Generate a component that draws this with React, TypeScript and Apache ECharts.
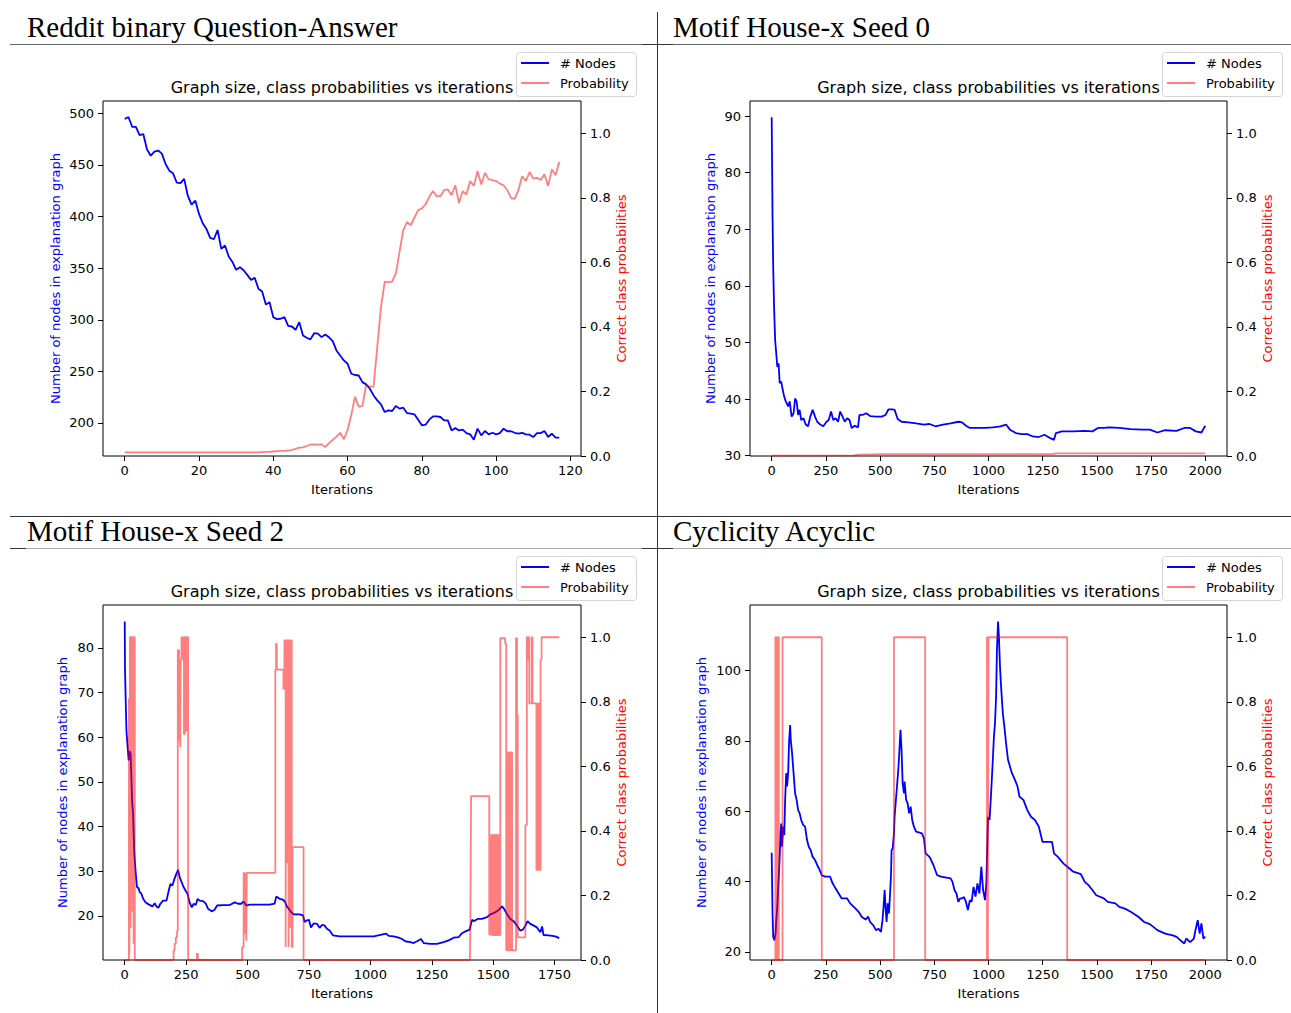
import React, { useEffect, useRef } from "react";
import * as echarts from "echarts";

// ---------- Data ----------
const headings = ["Reddit binary Question-Answer", "Motif House-x Seed 0", "Motif House-x Seed 2", "Cyclicity Acyclic"];
const subtitle = "Graph size, class probabilities vs iterations";
const legendNames = ["# Nodes", "Probability"];
const xName = "Iterations";
const leftName = "Number of nodes in explanation graph";
const rightName = "Correct class probabilities";

// Panel 1 (one value per iteration, 0..117)
const p1Nodes = [494.6, 496.5, 487, 487, 479, 480, 465, 459, 463, 464, 461, 451, 444.5, 442, 433, 432.5, 436.5, 420, 411.6, 415.5,
  402.6, 393.5, 388, 379.4, 378, 387, 368.7, 372, 361.3, 356, 348.4, 351, 348, 343.5, 338.7, 340.6, 330, 327.4, 314.8, 317,
  302.5, 300.6, 301, 302.5, 294, 293.5, 290.3, 297.7, 284.8, 282.6, 281, 287, 286.5, 283.2, 285.8, 283, 279.3, 270.3, 265.4, 260.6,
  257.4, 247.7, 246.5, 246, 239.6, 237.4, 233.2, 226.7, 221.9, 218, 210.6, 212.2, 211.6, 216.4, 213.9, 214.8, 209.6, 209, 208.4, 203.2,
  197.7, 198.3, 203.2, 206.4, 206.4, 205.8, 202.5, 202.5, 192.8, 195, 192.8, 193.5, 190.2, 189, 183.8, 194.5, 188, 192.2, 189, 190.5,
  189, 190.2, 194.5, 192, 192, 190.5, 189.6, 190.5, 189, 188.7, 186.4, 190.2, 190.2, 192.2, 186.4, 189.6, 185.8, 185.8];
const p1Prob = [0.011, 0.011, 0.011, 0.011, 0.011, 0.011, 0.011, 0.011, 0.011, 0.011, 0.011, 0.011, 0.011, 0.011, 0.011, 0.011, 0.011, 0.011, 0.011, 0.011,
  0.011, 0.011, 0.011, 0.011, 0.011, 0.011, 0.011, 0.011, 0.011, 0.011, 0.011, 0.011, 0.011, 0.011, 0.011, 0.011, 0.011, 0.012, 0.013, 0.013,
  0.014, 0.015, 0.016, 0.016, 0.017, 0.019, 0.022, 0.026, 0.027, 0.031, 0.035, 0.036, 0.035, 0.036, 0.028, 0.04, 0.05, 0.06, 0.072, 0.052,
  0.08, 0.127, 0.184, 0.153, 0.155, 0.22, 0.215, 0.215, 0.338, 0.462, 0.54, 0.539, 0.54, 0.566, 0.633, 0.7, 0.725, 0.715, 0.739, 0.762,
  0.767, 0.78, 0.803, 0.821, 0.805, 0.805, 0.824, 0.826, 0.808, 0.839, 0.784, 0.821, 0.81, 0.852, 0.837, 0.883, 0.841, 0.878, 0.857, 0.855,
  0.852, 0.844, 0.839, 0.824, 0.8, 0.797, 0.824, 0.867, 0.852, 0.88, 0.86, 0.862, 0.855, 0.873, 0.837, 0.888, 0.87, 0.911];

// Panel 2 ([iteration, value])
const p2Nodes = [[0, 89.8], [2, 80.9], [4, 72.1], [7, 63.3], [11, 56.3], [16, 50.4], [21, 48.1], [26, 45.7], [32, 46.3], [37, 42.8], [44, 43.1], [51, 41.6],
  [58, 40.4], [65, 39.6], [76, 38.7], [83, 39.6], [92, 36.9], [101, 37.5], [108, 40.1], [115, 39.6], [122, 37.2], [129, 38.1], [136, 36.3], [147, 36.6],
  [157, 35.5], [168, 35.2], [178, 36.9], [189, 38.1], [200, 36.9], [210, 36.0], [224, 35.5], [238, 35.2], [253, 36.0], [263, 36.3], [274, 37.8], [284, 36.3],
  [295, 36.6], [306, 36.0], [316, 37.8], [327, 36.9], [337, 36.0], [348, 36.6], [359, 36.3], [369, 34.9], [383, 35.3], [398, 35.0], [405, 37.2], [419, 37.2],
  [436, 37.5], [454, 37.0], [481, 36.9], [507, 36.9], [525, 37.2], [539, 38.2], [557, 38.2], [567, 38.1], [581, 36.5], [599, 36.0], [631, 35.9], [666, 35.7],
  [702, 35.5], [728, 35.6], [755, 35.2], [790, 35.5], [825, 35.7], [861, 36.0], [878, 35.9], [896, 35.3], [914, 34.9], [949, 34.9], [984, 34.9], [1020, 35.0],
  [1055, 35.2], [1081, 35.5], [1099, 34.6], [1126, 34.0], [1152, 33.8], [1179, 33.8], [1205, 33.4], [1232, 33.3], [1258, 33.7], [1285, 33.1], [1302, 32.8],
  [1311, 34.0], [1338, 34.3], [1391, 34.3], [1444, 34.4], [1479, 34.3], [1505, 34.9], [1532, 34.9], [1558, 35.0], [1603, 34.9], [1656, 34.7], [1709, 34.6],
  [1744, 34.6], [1779, 34.1], [1815, 34.5], [1867, 34.4], [1903, 34.9], [1930, 34.9], [1956, 34.3], [1982, 34.1], [2000, 35.3]];
const p2Prob = [[0, 0.001], [380, 0.002], [400, 0.004], [520, 0.006], [1300, 0.006], [1310, 0.008], [2000, 0.008]];

// Panel 3
const p3Nodes = [[0, 85.9], [1, 75.5], [4, 68], [7, 61.4], [12, 57.7], [16, 54.8], [20, 56.9], [24, 56.2], [30, 45.7], [34, 42.8], [39, 33.8], [45, 29.4],
  [50, 26.4], [56, 26.2], [61, 25.3], [68, 24.9], [75, 23.8], [85, 23.0], [99, 22.5], [113, 22.1], [122, 22.8], [129, 22.1], [137, 21.8], [145, 22.7],
  [156, 23.4], [170, 23.4], [179, 25.6], [186, 27.1], [194, 26.8], [202, 28.2], [210, 29.4], [217, 30.3], [224, 28.6], [232, 27.5], [240, 26.4], [248, 25.6],
  [256, 24.9], [264, 23.0], [273, 21.9], [281, 22.7], [289, 22.4], [297, 23.8], [305, 23.4], [319, 23.3], [330, 22.7], [340, 21.5], [354, 21.0], [365, 21.3],
  [376, 22.3], [400, 22.4], [427, 22.4], [448, 23.0], [461, 22.7], [475, 22.7], [484, 23.2], [495, 22.3], [509, 22.5], [549, 22.5], [590, 22.5], [610, 22.7],
  [617, 24.3], [631, 23.8], [644, 23.6], [652, 23.2], [660, 22.1], [669, 21.5], [678, 20.8], [688, 20.3], [712, 20.3], [726, 20.1], [732, 18.6], [739, 18.9],
  [750, 19.1], [758, 17.4], [769, 18.3], [783, 18.2], [793, 17.3], [804, 18.0], [814, 17.8], [823, 17.1], [834, 16.7], [848, 15.6], [875, 15.4], [946, 15.4],
  [1014, 15.4], [1064, 16.0], [1075, 15.5], [1095, 15.4], [1115, 15.1], [1129, 14.8], [1142, 14.3], [1163, 14.1], [1176, 13.9], [1190, 14.3], [1206, 14.8],
  [1217, 13.9], [1244, 13.7], [1271, 13.7], [1298, 14.1], [1319, 14.5], [1339, 15.1], [1359, 15.2], [1373, 16.1], [1387, 16.5], [1404, 16.9], [1414, 19.1],
  [1421, 18.8], [1437, 19.3], [1454, 19.3], [1475, 19.7], [1488, 20.3], [1502, 20.6], [1515, 21.0], [1526, 21.5], [1536, 22.1], [1545, 21.5], [1556, 20.4],
  [1570, 19.3], [1583, 18.8], [1597, 17.8], [1610, 16.7], [1621, 16.9], [1631, 17.8], [1640, 18.8], [1651, 18.2], [1665, 17.8], [1678, 17.4], [1692, 16.3],
  [1699, 17.6], [1705, 15.7], [1726, 15.6], [1753, 15.4], [1769, 15.0]];
const p3Prob = [[0, 0], [17, 0], [17, 0.81], [19, 0.81], [19, 0.02], [21, 0.02], [21, 1.0], [24, 1.0], [24, 0.1], [25, 0.1], [25, 1.0], [28, 1.0], [28, 0.2],
  [29, 0.2], [29, 1.0], [32, 1.0], [32, 0.15], [33, 0.15], [33, 1.0], [36, 1.0], [36, 0.05], [37, 0.05], [37, 1.0], [41, 1.0], [41, 0],
  [199, 0], [199, 0.03], [203, 0.03], [203, 0.05], [208, 0.05], [208, 0.07], [213, 0.07], [213, 0.09], [216, 0.09], [216, 0.96], [221, 0.96], [221, 0.68],
  [224, 0.68], [224, 0.87], [226, 0.87], [226, 0.66], [228, 0.66], [228, 0.93], [231, 0.93], [231, 1.0], [238, 1.0], [238, 0.93], [241, 0.93], [241, 0.7],
  [244, 0.7], [244, 1.0], [249, 1.0], [249, 0.71], [252, 0.71], [252, 1.0], [258, 1.0], [258, 0],
  [294, 0], [294, 0.02], [298, 0.02], [298, 0],
  [478, 0], [478, 0.04], [484, 0.04], [484, 0.27], [487, 0.27], [487, 0.08], [489, 0.08], [489, 0.27], [491, 0.27], [491, 0.1], [493, 0.1], [493, 0.27],
  [495, 0.27], [495, 0.06], [497, 0.06], [497, 0.27], [613, 0.27], [613, 0.9], [616, 0.9], [616, 0.98], [619, 0.98], [619, 0.9], [646, 0.9], [646, 0.84],
  [650, 0.84], [650, 0.99], [655, 0.99], [655, 0.04], [657, 0.04], [657, 0.99], [661, 0.99], [661, 0.3], [663, 0.3], [663, 0.99], [667, 0.99], [667, 0.04],
  [669, 0.04], [669, 0.99], [674, 0.99], [674, 0.1], [676, 0.1], [676, 0.99], [680, 0.99], [680, 0.04], [683, 0.04], [683, 0.35], [728, 0.35], [728, 0],
  [1405, 0], [1407, 0.1], [1410, 0.508], [1484, 0.508], [1484, 0.077], [1486, 0.077], [1486, 0.387], [1489, 0.387], [1489, 0.077], [1491, 0.077],
  [1491, 0.387], [1494, 0.387], [1494, 0.077], [1497, 0.077], [1497, 0.387], [1500, 0.387], [1500, 0.077], [1503, 0.077], [1503, 0.387], [1506, 0.387],
  [1506, 0.077], [1509, 0.077], [1509, 0.387], [1512, 0.387], [1512, 0.077], [1515, 0.077], [1515, 0.387], [1518, 0.387], [1518, 0.077], [1521, 0.077],
  [1521, 0.387], [1524, 0.387], [1524, 0.077], [1529, 0.077], [1529, 0.997], [1549, 0.997], [1549, 0.98], [1553, 0.98], [1553, 0.03], [1556, 0.03],
  [1556, 0.643], [1559, 0.643], [1559, 0.03], [1562, 0.03], [1562, 0.643], [1565, 0.643], [1565, 0.03], [1568, 0.03], [1568, 0.643], [1571, 0.643],
  [1571, 0.03], [1574, 0.03], [1574, 0.643], [1577, 0.643], [1577, 0.03], [1593, 0.03], [1593, 0.997], [1597, 0.997], [1597, 0.76], [1600, 0.76],
  [1600, 0.07], [1631, 0.07], [1631, 0.418], [1637, 0.418], [1637, 1.0], [1641, 1.0], [1641, 0.93], [1644, 0.93], [1644, 1.0], [1647, 1.0], [1647, 0.795],
  [1657, 0.795], [1657, 1.0], [1660, 1.0], [1660, 0.795], [1676, 0.795], [1676, 0.279], [1680, 0.279], [1680, 0.795], [1683, 0.795], [1683, 0.279],
  [1687, 0.279], [1687, 0.795], [1690, 0.795], [1690, 0.279], [1693, 0.279], [1693, 0.93], [1697, 0.93], [1697, 1.0], [1769, 1.0]];

// Panel 4
const p4Nodes = [[0, 48.2], [2, 39.5], [4, 30.9], [7, 24.3], [12, 23.3], [18, 25.2], [21, 29.0], [26, 32.8], [30, 38.5], [35, 44.2], [41, 53.7], [44, 56.5],
  [48, 49.9], [53, 55.6], [58, 53.2], [62, 63.2], [67, 70.8], [71, 67.0], [76, 70.8], [80, 79.3], [85, 84.5], [88, 80.3], [94, 76.5], [101, 70.8], [108, 65.1],
  [115, 63.2], [122, 60.3], [129, 59.4], [136, 57.5], [145, 56.1], [154, 55.6], [163, 51.8], [171, 49.9], [180, 48.9], [189, 47.0], [200, 46.1], [210, 44.7],
  [221, 43.3], [231, 41.8], [246, 41.4], [269, 41.4], [281, 39.5], [295, 38.0], [309, 36.6], [323, 35.2], [348, 35.2], [362, 33.8], [387, 32.3], [401, 31.4],
  [415, 30.0], [433, 29.2], [445, 30.0], [454, 28.5], [468, 27.6], [481, 26.2], [493, 26.6], [504, 25.7], [511, 29.0], [516, 32.8], [521, 37.6], [525, 32.8],
  [530, 28.5], [535, 33.8], [541, 30.9], [546, 36.6], [550, 41.4], [553, 48.9], [558, 49.4], [564, 53.7], [567, 58.4], [573, 63.2], [578, 67.0], [585, 72.7],
  [590, 78.4], [594, 83.1], [599, 77.4], [604, 67.9], [610, 65.1], [613, 68.4], [620, 63.2], [627, 62.2], [634, 59.4], [641, 61.3], [648, 57.5], [656, 55.6],
  [666, 54.2], [693, 53.7], [702, 52.3], [710, 48.0], [728, 47.0], [746, 44.7], [763, 41.8], [781, 41.4], [825, 40.9], [834, 39.9], [843, 37.6], [852, 36.6],
  [861, 34.2], [869, 35.2], [878, 35.2], [887, 35.6], [896, 34.2], [905, 31.9], [914, 34.7], [922, 34.2], [931, 38.5], [940, 35.7], [949, 39.5], [958, 36.6],
  [967, 44.2], [975, 37.6], [984, 34.7], [990, 39.5], [995, 51.8], [998, 58.4], [1005, 57.5], [1012, 65.1], [1020, 74.6], [1025, 81.2], [1030, 85.0],
  [1035, 92.6], [1039, 105.9], [1044, 113.9], [1048, 109.7], [1053, 101.1], [1058, 95.4], [1066, 87.9], [1073, 84.1], [1081, 79.3], [1090, 74.6], [1099, 72.7],
  [1108, 70.8], [1122, 68.9], [1134, 67.0], [1143, 64.1], [1161, 63.2], [1179, 60.3], [1196, 58.4], [1214, 57.5], [1232, 55.6], [1249, 51.3], [1267, 51.3],
  [1293, 51.3], [1302, 48.0], [1320, 47.0], [1346, 45.1], [1364, 44.2], [1391, 42.8], [1426, 42.1], [1444, 39.9], [1461, 39.0], [1479, 37.6], [1497, 36.1],
  [1532, 35.2], [1550, 34.2], [1585, 33.8], [1603, 32.8], [1629, 32.3], [1656, 31.4], [1691, 30.0], [1718, 28.5], [1744, 27.9], [1779, 26.2], [1815, 25.2],
  [1850, 24.7], [1868, 24.3], [1885, 23.3], [1903, 22.4], [1912, 23.8], [1930, 22.8], [1947, 23.8], [1956, 26.6], [1965, 29.0], [1974, 25.2], [1982, 28.1],
  [1991, 23.8], [2000, 24.3]];
const p4Prob = [[0, 0], [17, 0], [17, 1], [22, 1], [22, 0], [28, 0], [28, 1], [33, 1], [33, 0], [50, 0], [50, 1], [231, 1], [231, 0], [564, 0], [564, 1],
  [708, 1], [708, 0], [993, 0], [993, 1], [997, 1], [997, 0], [1000, 0], [1000, 1], [1363, 1], [1363, 0], [2000, 0]];

// Tick values
const p1XTicks = [0, 20, 40, 60, 80, 100, 120];
const p1YTicks = [200, 250, 300, 350, 400, 450, 500];
const p2XTicks = [0, 250, 500, 750, 1000, 1250, 1500, 1750, 2000];
const p2YTicks = [30, 40, 50, 60, 70, 80, 90];
const p3XTicks = [0, 250, 500, 750, 1000, 1250, 1500, 1750];
const p3YTicks = [10, 20, 30, 40, 50, 60, 70, 80];
const p4XTicks = [0, 250, 500, 750, 1000, 1250, 1500, 1750, 2000];
const p4YTicks = [20, 40, 60, 80, 100];
const probTicks = [0, 0.2, 0.4, 0.6, 0.8, 1.0];

const SANS = "DejaVu Sans";
const SERIF = "Liberation Serif";
const BLUE = "#0000ff";
const PINK = "rgba(255,0,0,0.5)";

function buildOption() {
  const panels = [
    { left: 103, top: 101, width: 478, height: 355, xr: [-5.85, 122.85], yr: [168, 512], xt: p1XTicks, yt: p1YTicks,
      nodes: p1Nodes.map((v, i) => [i, v]), prob: p1Prob.map((v, i) => [i, v]), nameX: 55, hx: 27, hy: 27 },
    { left: 750, top: 101, width: 477, height: 355, xr: [-100, 2100], yr: [29.95, 92.65], xt: p2XTicks, yt: p2YTicks,
      nodes: p2Nodes, prob: p2Prob, nameX: 710, hx: 673, hy: 27 },
    { left: 103, top: 605, width: 478, height: 355, xr: [-88.5, 1857.5], yr: [10.1, 89.6], xt: p3XTicks, yt: p3YTicks,
      nodes: p3Nodes, prob: p3Prob, nameX: 62, hx: 27, hy: 531 },
    { left: 750, top: 605, width: 477, height: 355, xr: [-100, 2100], yr: [17.7, 118.6], xt: p4XTicks, yt: p4YTicks,
      nodes: p4Nodes, prob: p4Prob, nameX: 701, hx: 673, hy: 531 },
  ];
  const grid: any[] = [];
  const xAxis: any[] = [];
  const yAxis: any[] = [];
  const series: any[] = [];
  const graphic: any[] = [];
  const labelBase = { fontFamily: SANS, fontSize: 13, color: "#000" };
  const tickBase = { show: true, length: 5, inside: false, lineStyle: { color: "#000", width: 1 } };
  const lineOff = { show: false, onZero: false };

  panels.forEach((p, i) => {
    grid.push({ left: p.left, top: p.top, width: p.width, height: p.height, show: true, borderColor: "#000", borderWidth: 1,
      backgroundColor: "transparent", containLabel: false });
    xAxis.push({ type: "value", gridIndex: i, position: "bottom", min: p.xr[0], max: p.xr[1], axisLine: lineOff, splitLine: { show: false },
      axisTick: { ...tickBase, customValues: p.xt },
      axisLabel: { ...labelBase, margin: 8, customValues: p.xt, formatter: (v: number) => String(Math.round(v)) } });
    yAxis.push({ type: "value", gridIndex: i, position: "left", min: p.yr[0], max: p.yr[1], axisLine: lineOff,
      splitLine: { show: false }, axisTick: { ...tickBase, customValues: p.yt },
      axisLabel: { ...labelBase, margin: 9, customValues: p.yt, formatter: (v: number) => String(Math.round(v)) } });
    yAxis.push({ type: "value", gridIndex: i, position: "right", min: 0, max: 1.1, axisLine: lineOff,
      splitLine: { show: false }, axisTick: { ...tickBase, customValues: probTicks },
      axisLabel: { ...labelBase, margin: 9, customValues: probTicks, formatter: (v: number) => v.toFixed(1) } });
    series.push({ type: "line", name: legendNames[0], xAxisIndex: i, yAxisIndex: 2 * i, data: p.nodes, symbol: "none",
      showSymbol: false, lineStyle: { color: BLUE, width: 1.8 }, itemStyle: { color: BLUE }, z: 2, silent: true });
    series.push({ type: "line", name: legendNames[1], xAxisIndex: i, yAxisIndex: 2 * i + 1, data: p.prob, symbol: "none",
      showSymbol: false, lineStyle: { color: PINK, width: 1.8 }, itemStyle: { color: PINK }, z: 3, silent: true });

    const cx = p.left + p.width / 2;
    const cy = p.top + p.height / 2;
    const right = p.left + p.width;
    graphic.push({ type: "text", x: p.hx, y: p.hy, z: 50,
      style: { text: headings[i], fill: "#000", fontFamily: SERIF, fontSize: 29, align: "left", verticalAlign: "middle" } });
    graphic.push({ type: "text", x: cx, y: p.top - 14, z: 50,
      style: { text: subtitle, fill: "#000", fontFamily: SANS, fontSize: 16, align: "center", verticalAlign: "middle" } });
    graphic.push({ type: "text", x: cx, y: p.top + p.height + 33, z: 50,
      style: { text: xName, fill: "#000", fontFamily: SANS, fontSize: 13, align: "center", verticalAlign: "middle" } });
    graphic.push({ type: "text", x: p.nameX, y: cy, rotation: Math.PI / 2, z: 50,
      style: { text: leftName, fill: BLUE, fontFamily: SANS, fontSize: 13, align: "center", verticalAlign: "middle" } });
    graphic.push({ type: "text", x: right + 40, y: cy, rotation: Math.PI / 2, z: 50,
      style: { text: rightName, fill: "#ff0000", fontFamily: SANS, fontSize: 13, align: "center", verticalAlign: "middle" } });
    const lx = right - 65;
    const ly = p.top - 49;
    graphic.push({ type: "rect", z: 60, shape: { x: lx + 0.5, y: ly + 0.5, width: 120, height: 44, r: 3 },
      style: { fill: "rgba(255,255,255,0.8)", stroke: "#d4d4d4", lineWidth: 1 } });
    graphic.push({ type: "line", z: 61, shape: { x1: lx + 5, y1: ly + 11, x2: lx + 33, y2: ly + 11 }, style: { stroke: BLUE, lineWidth: 2 } });
    graphic.push({ type: "line", z: 61, shape: { x1: lx + 5, y1: ly + 31, x2: lx + 33, y2: ly + 31 }, style: { stroke: PINK, lineWidth: 2 } });
    graphic.push({ type: "text", x: lx + 44, y: ly + 11, z: 61,
      style: { text: legendNames[0], fill: "#000", fontFamily: SANS, fontSize: 13, align: "left", verticalAlign: "middle" } });
    graphic.push({ type: "text", x: lx + 44, y: ly + 31, z: 61,
      style: { text: legendNames[1], fill: "#000", fontFamily: SANS, fontSize: 13, align: "left", verticalAlign: "middle" } });
  });

  graphic.push({ type: "line", z: 40, shape: { x1: 10, y1: 44.5, x2: 1291, y2: 44.5 }, style: { stroke: "#666", lineWidth: 1 } });
  graphic.push({ type: "line", z: 40, shape: { x1: 657.5, y1: 12, x2: 657.5, y2: 1013 }, style: { stroke: "#333", lineWidth: 1 } });
  graphic.push({ type: "line", z: 40, shape: { x1: 10, y1: 516.5, x2: 1291, y2: 516.5 }, style: { stroke: "#333", lineWidth: 1 } });
  graphic.push({ type: "line", z: 40, shape: { x1: 10, y1: 548.5, x2: 1291, y2: 548.5 }, style: { stroke: "#aaa", lineWidth: 1 } });
  graphic.push({ type: "line", z: 41, shape: { x1: 10, y1: 548.5, x2: 26, y2: 548.5 }, style: { stroke: "#333", lineWidth: 1 } });
  graphic.push({ type: "line", z: 41, shape: { x1: 642, y1: 548.5, x2: 673, y2: 548.5 }, style: { stroke: "#333", lineWidth: 1 } });
  graphic.push({ type: "line", z: 41, shape: { x1: 642, y1: 44.5, x2: 673, y2: 44.5 }, style: { stroke: "#333", lineWidth: 1 } });

  return {
    animation: false,
    backgroundColor: "#ffffff",
    textStyle: { fontFamily: SANS },
    grid,
    xAxis,
    yAxis,
    series,
    graphic,
  };
}

export default function App() {
  const ref = useRef<HTMLDivElement>(null);
  useEffect(() => {
    document.body.style.margin = "0";
    if (!ref.current) return;
    const chart = echarts.init(ref.current, null, { renderer: "svg" });
    chart.setOption(buildOption());
    return () => chart.dispose();
  }, []);
  return <div ref={ref} style={{ width: 1291, height: 1013 }} />;
}
